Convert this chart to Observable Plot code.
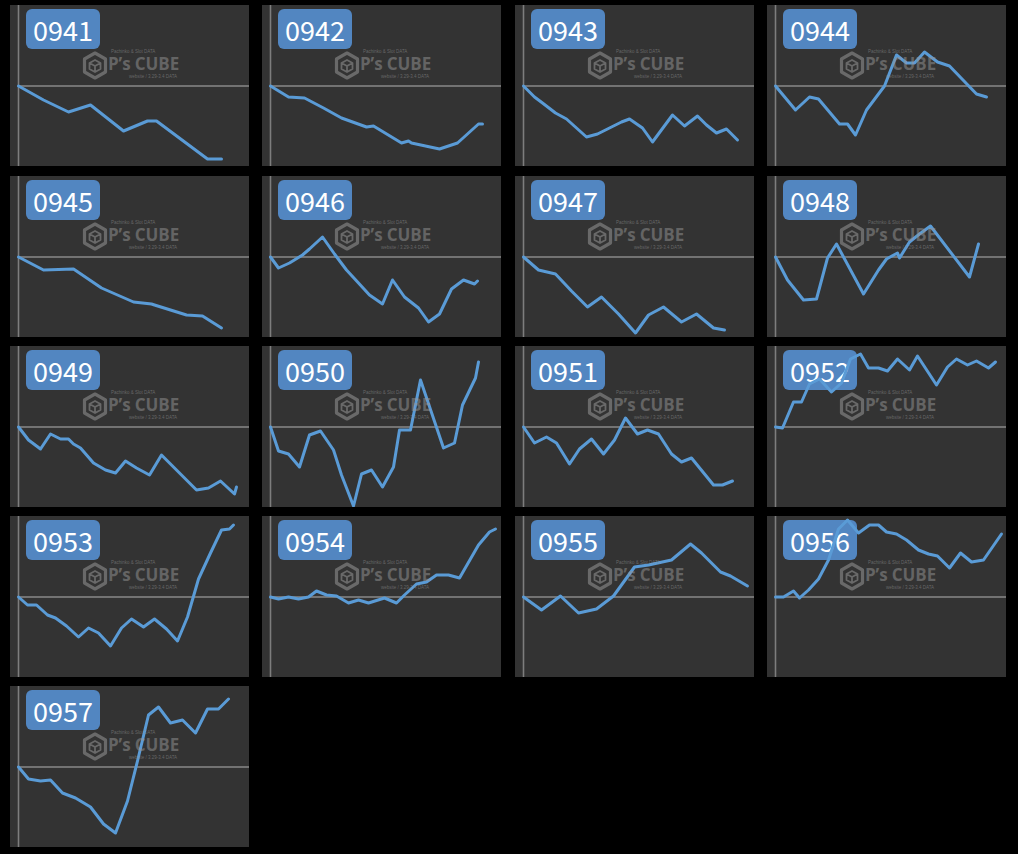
<!DOCTYPE html>
<html>
<head>
<meta charset="utf-8">
<script src="https://cdn.jsdelivr.net/npm/d3@7"></script>
<script src="https://cdn.jsdelivr.net/npm/@observablehq/plot@0.6"></script>
<style>
  html, body { margin: 0; padding: 0; background: #000; }
  #wrap { position: relative; width: 1018px; height: 854px; background: #000; overflow: hidden; }
  .panel { position: absolute; width: 239px; height: 161px; background: #333333; overflow: hidden; }
  .panel > svg { position: absolute; left: 0; top: 0; }
  .tag { position: absolute; left: 16px; top: 4px; width: 74px; height: 40px; border-radius: 6px;
         background: #5286c1; color: #fff; font-family: "Noto Sans CJK JP", "Noto Sans", sans-serif;
         font-size: 27px; line-height: 40px; text-align: center; padding-top: 1px; box-sizing: border-box; }
  .wm { position: absolute; left: 0; top: 0; width: 239px; height: 161px; pointer-events: none; }
  .wm .big { position: absolute; left: 98px; top: 52px; font-family: "Open Sans", sans-serif; font-weight: 700;
             font-size: 17px; letter-spacing: -0.1px; color: rgba(150,150,150,0.5); white-space: nowrap; line-height: 14px; }
  .wm .s1 { position: absolute; left: 101px; top: 44px; font-family: "Liberation Sans", sans-serif; font-size: 4.5px;
            line-height: 5px; color: rgba(150,150,150,0.55); white-space: nowrap; }
  .wm .s2 { position: absolute; left: 119px; top: 68.5px; font-family: "Liberation Sans", sans-serif; font-size: 4.5px;
            line-height: 5px; color: rgba(150,150,150,0.55); white-space: nowrap; }
  .wm svg { position: absolute; left: 72px; top: 46px; }
</style>
</head>
<body>
<div id="wrap"></div>
<script>
// Machine numbers (panel labels)
const machines = ["0941","0942","0943","0944","0945","0946","0947","0948","0949",
                  "0950","0951","0952","0953","0954","0955","0956","0957"];

// Each series: [progress, difference] pairs (baseline = 0)
const s0941 = [[0,0],[25,-14],[50,-26],[72,-19],[105,-45],[129,-35],[138,-35],[189,-73],[203,-73]];
const s0942 = [[0,0],[18,-11],[34,-12],[53,-22],[71,-32],[96,-41],[103,-40],[131,-57],[138,-55],[141,-57],[169,-63],[187,-57],[208,-38],[212,-38]];
const s0943 = [[0,0],[11,-11],[19,-17],[32,-27],[43,-33],[63,-51],[74,-48],[88,-41],[98,-36],[106,-33],[119,-42],[129,-56],[149,-29],[161,-40],[174,-30],[183,-39],[193,-47],[203,-43],[214,-54]];
const s0944 = [[0,0],[20,-24],[34,-11],[43,-13],[64,-38],[72,-38],[80,-49],[91,-24],[109,0],[121,31],[131,23],[139,23],[149,34],[162,24],[174,20],[201,-8],[211,-11]];
const s0945 = [[0,0],[25,-13],[55,-12],[83,-31],[115,-45],[133,-47],[136,-48],[168,-58],[184,-59],[203,-71]];
const s0946 = [[0,0],[8,-11],[19,-6],[32,2],[39,8],[52,20],[64,3],[76,-13],[88,-26],[99,-38],[112,-47],[122,-23],[134,-40],[148,-51],[158,-65],[169,-57],[181,-32],[193,-23],[204,-27],[207,-24]];
const s0947 = [[0,0],[15,-13],[32,-17],[48,-34],[64,-50],[78,-40],[95,-57],[112,-76],[125,-58],[140,-50],[158,-65],[173,-57],[190,-71],[201,-73]];
const s0948 = [[0,0],[12,-23],[28,-43],[41,-42],[52,-1],[61,13],[88,-37],[103,-13],[111,-2],[122,4],[124,-1],[134,15],[144,23],[155,31],[194,-20],[203,13]];
const s0949 = [[0,0],[10,-13],[22,-22],[32,-7],[42,-12],[50,-12],[55,-17],[62,-21],[75,-36],[87,-43],[97,-46],[107,-34],[118,-41],[131,-48],[143,-28],[178,-63],[190,-61],[202,-54],[216,-67],[218,-60]];
const s0950 = [[0,0],[8,-24],[18,-27],[29,-40],[39,-8],[50,-4],[63,-23],[71,-48],[83,-79],[91,-47],[101,-43],[112,-60],[123,-40],[129,-3],[140,-3],[150,47],[173,-21],[184,-16],[192,22],[205,49],[208,65]];
const s0951 = [[0,0],[11,-16],[23,-10],[33,-16],[46,-37],[56,-22],[68,-12],[80,-27],[91,-13],[102,9],[114,-7],[124,-3],[135,-7],[148,-27],[158,-35],[168,-31],[190,-58],[199,-58],[209,-54]];
const s0952 = [[0,0],[7,-1],[18,25],[26,25],[34,43],[44,48],[56,35],[66,44],[75,68],[85,73],[93,59],[103,59],[112,56],[122,68],[134,57],[142,71],[161,42],[172,60],[181,68],[192,62],[201,66],[213,59],[220,65]];
const s0953 = [[0,0],[9,-8],[18,-8],[29,-18],[37,-21],[48,-29],[60,-40],[70,-31],[80,-36],[92,-49],[103,-31],[113,-22],[125,-30],[136,-22],[148,-32],[159,-44],[169,-20],[180,18],[192,44],[203,67],[211,68],[215,72]];
const s0954 = [[0,0],[8,-2],[18,0],[28,-2],[38,0],[46,6],[56,2],[66,1],[78,-6],[88,-3],[98,-6],[114,-1],[126,-6],[134,2],[146,13],[156,15],[166,22],[178,22],[189,19],[208,52],[219,65],[225,68]];
const s0955 = [[0,0],[18,-13],[37,1],[55,-16],[73,-12],[90,1],[111,30],[125,32],[148,37],[167,53],[178,44],[197,25],[207,21],[224,11]];
const s0956 = [[0,0],[8,0],[18,6],[24,-1],[33,7],[43,18],[53,37],[63,68],[72,77],[83,64],[94,72],[103,72],[111,65],[121,63],[131,57],[143,47],[153,43],[162,41],[174,29],[185,44],[196,35],[208,37],[226,63]];
const s0957 = [[0,0],[10,-12],[22,-14],[32,-13],[44,-26],[57,-31],[72,-40],[85,-57],[97,-66],[109,-34],[119,6],[130,52],[140,60],[152,44],[164,47],[177,34],[189,58],[200,58],[210,68]];

const series = [s0941,s0942,s0943,s0944,s0945,s0946,s0947,s0948,s0949,
                s0950,s0951,s0952,s0953,s0954,s0955,s0956,s0957];

// Grid layout of the small multiples
const colLeft = [10, 262, 515, 767];
const rowTop = [5, 176, 346, 516, 686];

const logoSvg = `<svg width="26" height="29" viewBox="0 0 26 29">
  <g fill="none" stroke="rgba(150,150,150,0.55)" stroke-linejoin="round">
    <path d="M13 2 L23.5 8 L23.5 21 L13 27 L2.5 21 L2.5 8 Z" stroke-width="3.2"/>
    <path d="M13 9 L18.5 12 L18.5 18 L13 21 L7.5 18 L7.5 12 Z M7.5 12 L13 15 L18.5 12 M13 15 L13 21" stroke-width="1.8"/>
  </g></svg>`;

const wrap = document.getElementById("wrap");
machines.forEach((name, i) => {
  const panel = document.createElement("div");
  panel.className = "panel";
  panel.style.left = colLeft[i % 4] + "px";
  panel.style.top = rowTop[Math.floor(i / 4)] + "px";

  const tag = document.createElement("div");
  tag.className = "tag";
  tag.textContent = name;
  panel.appendChild(tag);

  const data = series[i].map(([x, y]) => ({x, y}));
  const chart = Plot.plot({
    width: 239,
    height: 161,
    marginTop: 0, marginBottom: 0, marginRight: 0, marginLeft: 8,
    x: {domain: [0, 231], axis: null},
    y: {domain: [-80.5, 80.5], axis: null},
    style: {background: "transparent", overflow: "visible"},
    marks: [
      Plot.ruleX([0], {stroke: "#7d7d7d", strokeWidth: 1.6}),
      Plot.ruleY([0], {stroke: "#8a8a8a", strokeWidth: 1.6}),
      Plot.line(data, {x: "x", y: "y", stroke: "#5a9bd6", strokeWidth: 3, strokeLinejoin: "round"})
    ]
  });
  panel.appendChild(chart);

  const wm = document.createElement("div");
  wm.className = "wm";
  wm.innerHTML = logoSvg +
    `<div class="s1">Pachinko &amp; Slot DATA</div>` +
    `<div class="big">P’s CUBE</div>` +
    `<div class="s2">website / 3.29-3.4 DATA</div>`;
  panel.appendChild(wm);

  wrap.appendChild(panel);
});
</script>
</body>
</html>
